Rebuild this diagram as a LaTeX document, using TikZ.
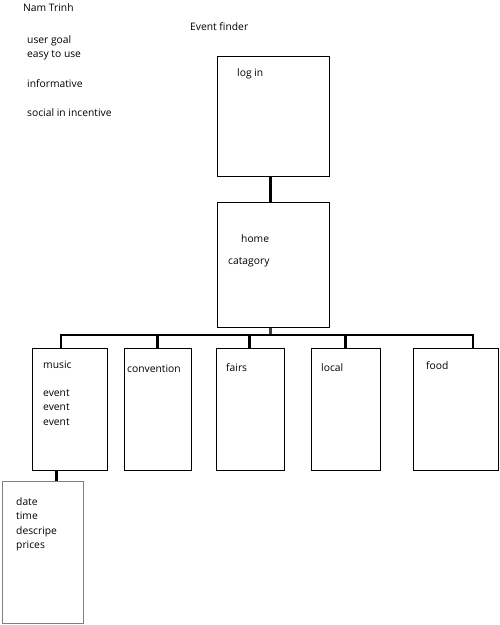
\documentclass[tikz,border=0pt]{standalone}
\usepackage{fontspec}
\setmainfont{Open Sans}
\begin{document}
\begin{tikzpicture}[x=1pt,y=-1pt,
        box/.style={draw,line width=0.9pt,inner sep=0pt,anchor=north west},
        wire/.style={line width=2.6pt,line join=miter},
        txt/.style={anchor=west,inner sep=0pt,font=\fontsize{10.3}{14.6}\selectfont}]
    \useasboundingbox (0,0) rectangle (499,625);

    \node[txt] (author) at (23,8) {Nam Trinh};
    \node[txt] (title) at (190,27) {Event finder};
    \node[txt] (goal) at (27,41) {user goal};
    \node[txt] (easy) at (27,55) {easy to use};
    \node[txt] (info) at (27,84) {informative};
    \node[txt] (social) at (27,113) {social in incentive};

    \node[box,minimum width=112pt,minimum height=120pt] (login) at (217,56) {};
    \node[box,minimum width=112pt,minimum height=125pt] (home) at (217,202) {};
    \node[box,minimum width=75pt,minimum height=122pt] (music) at (32,348) {};
    \node[box,minimum width=67pt,minimum height=122pt] (convention) at (124,348) {};
    \node[box,minimum width=68pt,minimum height=122pt] (fairs) at (216,348) {};
    \node[box,minimum width=69pt,minimum height=122pt] (local) at (311,348) {};
    \node[box,minimum width=85pt,minimum height=122pt] (food) at (413,348) {};
    \node[box,draw=gray,line width=1.4pt,minimum width=81pt,minimum height=142pt] (detail) at (2,481) {};

    \node[txt] (logintxt) at (237,74) {log in};
    \node[txt] (hometxt) at (241,239) {home};
    \node[txt] (cattxt) at (228,262) {catagory};
    \node[txt,align=left,anchor=north west] (musictxt) at (43,361) {music\\[13pt] event\\event\\event};
    \node[txt] (convtxt) at (127,369) {convention};
    \node[txt] (fairstxt) at (226,368) {fairs};
    \node[txt] (localtxt) at (321,368) {local};
    \node[txt] (foodtxt) at (426,366) {food};
    \node[txt,align=left,anchor=north west] (detailtxt) at (16,497) {date\\time\\descripe\\prices};

    \coordinate (busL) at (61,335);
    \coordinate (busR) at (473,335);

    \draw[wire] ([xshift=-3pt]login.south) -- ([xshift=-3pt]home.north);
    \draw[wire,draw=gray!50!black,line width=2.2pt] ([xshift=-3pt]home.south) -- ([xshift=-3pt]home.south |- busL);
    \draw[wire] (busL |- music.north) -- (busL) -- (busR) -- (busR |- food.north);
    \draw[wire] ([xshift=-0.5pt]convention.north) -- ([xshift=-0.5pt]convention.north |- busL);
    \draw[wire] ([xshift=-1pt]fairs.north) -- ([xshift=-1pt]fairs.north |- busL);
    \draw[wire] ([xshift=-0.5pt]local.north) -- ([xshift=-0.5pt]local.north |- busL);
    \draw[wire] ([xshift=-13.5pt]music.south) -- ([xshift=-13.5pt]music.south |- detail.north);
\end{tikzpicture}
\end{document}
